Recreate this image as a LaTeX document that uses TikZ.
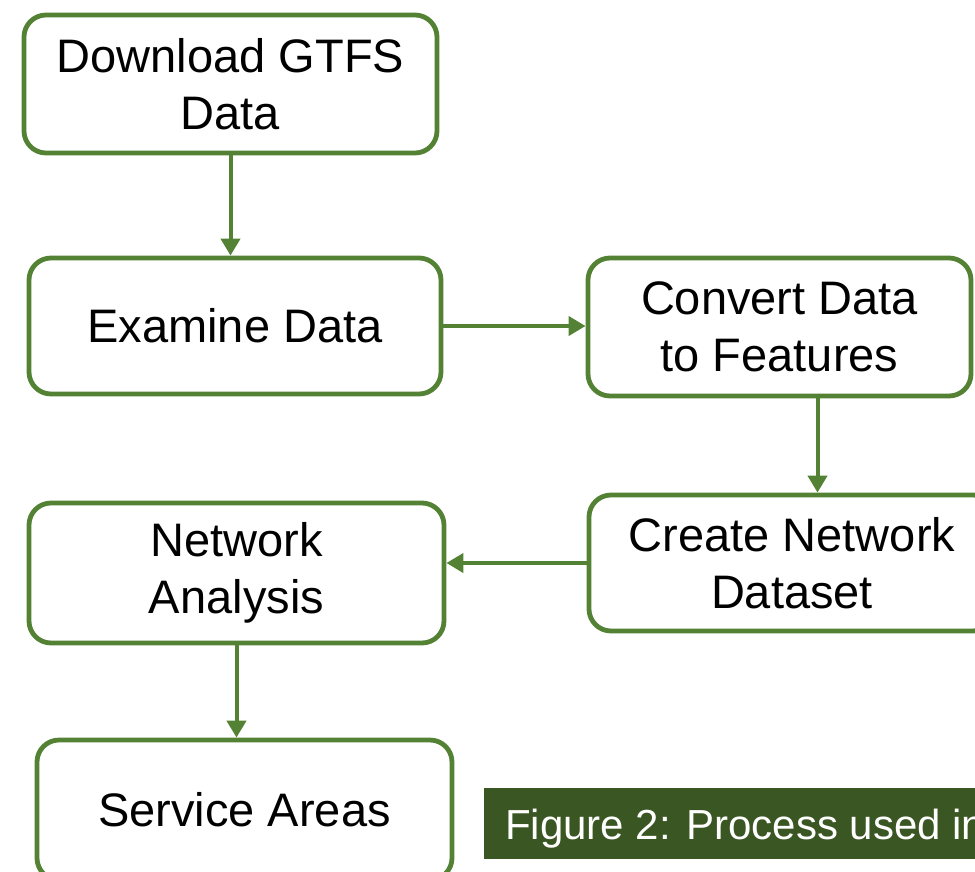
\documentclass[tikz,border=0pt]{standalone}
\usepackage{fontspec}
\setmainfont{Liberation Sans}
\usepackage{tikz}
\usetikzlibrary{arrows.meta}

\definecolor{boxgreen}{HTML}{548235}
\definecolor{capgreen}{HTML}{3A5723}

\tikzset{
	stepbox/.style={draw=boxgreen, line width=4.8pt, rounded corners=22pt, fill=white,
		inner sep=0pt, align=center, font=\fontsize{47}{57}\selectfont},
	flow/.style={draw=boxgreen, line width=4pt, -{Triangle[width=19pt,length=17pt]}}
}

\begin{document}
\begin{tikzpicture}[x=1pt,y=-1pt]

	\useasboundingbox (0,0) rectangle (975,871);
	\clip (0,0) rectangle (975,871);

	\node[stepbox, minimum width=413pt, minimum height=138pt] (dl) at (230.5,84) {Download GTFS\\Data};
	\node[stepbox, minimum width=412pt, minimum height=136pt] (ex) at (235,326) {Examine Data};
	\node[stepbox, minimum width=383pt, minimum height=138pt] (cv) at (779.5,327) {Convert Data\\to Features};
	\node[stepbox, minimum width=406pt, minimum height=136pt] (cd) at (792,563) {Create Network\\Dataset};
	\node[stepbox, minimum width=415pt, minimum height=140pt] (na) at (236.5,573) {Network\\Analysis};
	\node[stepbox, minimum width=415pt, minimum height=140pt] (sa) at (244.5,810) {Service Areas};

	\draw[flow] (dl.south) -- (dl.south |- ex.north);
	\draw[flow] (ex.east) -- (ex.east -| cv.west);
	\draw[flow] ([xshift=38pt]cv.south) -- ([xshift=38pt]cv.south |- cd.north);
	\draw[flow] (cd.west) -- (cd.west -| na.east);
	\draw[flow] (na.south) -- (na.south |- sa.north);

	% caption bar, runs off the right edge
	\fill[capgreen] (484,788) rectangle (1000,859);
	\node[anchor=base west, inner sep=0pt, text=white, font=\fontsize{42}{50}\selectfont] (cap) at (505,839) {Figure 2: Process used in};

\end{tikzpicture}
\end{document}
